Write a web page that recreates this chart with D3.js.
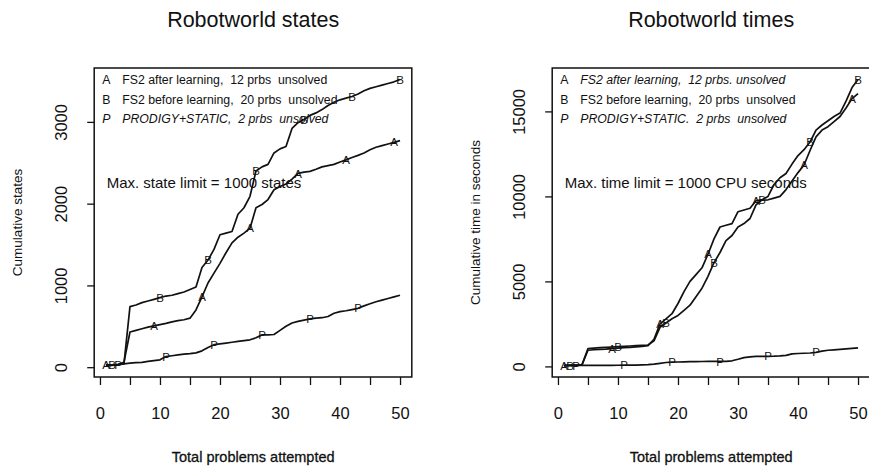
<!doctype html>
<html lang="en">
<head>
  <meta charset="utf-8">
  <title>Robotworld states and times</title>
  <script src="https://d3js.org/d3.v7.min.js"></script>
  <style>
    body { margin: 0; background: #fff; }
    text { font-family: "Liberation Sans", Arial, Helvetica, sans-serif; fill: #111; }
  </style>
</head>
<body>
<div id="chart"></div>
<script>
  // problem numbers 1..50
  var problems = d3.range(1, 51);

  // cumulative states explored (left panel)
  var statesA = [30, 30, 35, 60, 430, 450, 470, 490, 505, 520,
                 535, 555, 570, 580, 600, 700, 860, 1030, 1150, 1270,
                 1400, 1520, 1590, 1640, 1700, 1950, 1990, 2050, 2170, 2210,
                 2240, 2300, 2370, 2385, 2395, 2420, 2450, 2465, 2480, 2510,
                 2535, 2565, 2590, 2620, 2660, 2690, 2710, 2730, 2750, 2770];
  var statesB = [20, 25, 30, 40, 740, 760, 790, 810, 830, 850,
                 870, 880, 900, 920, 950, 980, 1220, 1310, 1440, 1620,
                 1640, 1660, 1870, 1950, 2090, 2400, 2450, 2480, 2620, 2670,
                 2700, 2920, 2990, 3030, 3080, 3110, 3150, 3200, 3240, 3270,
                 3290, 3310, 3340, 3380, 3410, 3430, 3450, 3470, 3490, 3519];
  var statesP = [20, 22, 30, 40, 50, 55, 60, 70, 80, 90,
                 130, 140, 150, 160, 165, 175, 200, 240, 275, 285,
                 295, 305, 315, 325, 335, 360, 395, 395, 400, 450,
                 500, 540, 560, 575, 590, 600, 605, 620, 660, 680,
                 690, 705, 720, 750, 775, 800, 820, 840, 860, 880];

  // cumulative CPU seconds (right panel)
  var timesA = [60, 70, 80, 90, 950, 980, 1000, 1020, 1050, 1080,
                1100, 1120, 1150, 1180, 1220, 1600, 2500, 2800, 3100, 3700,
                4400, 5000, 5400, 5800, 6600, 7500, 8200, 8300, 8400, 9100,
                9200, 9300, 9750, 9780, 9800, 9900, 10000, 10400, 10900, 11400,
                11850, 12700, 13500, 13900, 14100, 14400, 14700, 15200, 15750, 16050];
  var timesB = [50, 60, 70, 90, 1050, 1080, 1100, 1120, 1140, 1160,
                1180, 1200, 1220, 1240, 1260, 1500, 2300, 2550, 2800, 3000,
                3300, 3600, 4100, 4600, 5300, 6100, 6700, 7400, 7700, 8200,
                8400, 8700, 9500, 9800, 10000, 10700, 11100, 11350, 11900, 12400,
                12750, 13200, 13900, 14200, 14450, 14700, 14900, 15600, 16400, 16880];
  var timesP = [50, 50, 55, 55, 60, 60, 60, 62, 65, 68,
                70, 75, 80, 90, 100, 130, 180, 230, 250, 260,
                270, 280, 285, 290, 295, 295, 295, 300, 330, 420,
                520, 560, 585, 590, 595, 600, 620, 650, 740, 760,
                775, 790, 830, 900, 950, 975, 1000, 1030, 1060, 1090];

  var xTicks = d3.range(0, 51, 5);
  var xLabels = [0, 10, 20, 30, 40, 50];
  var statesTicks = [0, 1000, 2000, 3000];
  var timesTicks = [0, 5000, 10000, 15000];

  var seriesLetters = ['A', 'B', 'P'];
  var statesLegend = ['FS2 after learning,  12 prbs  unsolved',
                      'FS2 before learning,  20 prbs  unsolved',
                      'PRODIGY+STATIC,  2 prbs  unsolved'];
  var timesLegend = ['FS2 after learning,  12 prbs. unsolved',
                     'FS2 before learning,  20 prbs  unsolved',
                     'PRODIGY+STATIC.  2 prbs  unsolved'];

  var width = 869;
  var height = 466;
  var top_y = 68;
  var bottom_y = 377;

  var svg = d3.select('#chart').append('svg')
    .attr('width', width)
    .attr('height', height)
    .style('background', '#fff');

  // R style 4% padding on both ends
  function padded(lo, hi) {
    var p = (hi - lo) * 0.04;
    return [lo - p, hi + p];
  }

  function draw_panel(cfg) {
    var all = cfg.series.reduce((a, s) => a.concat(s), []);
    var x = d3.scaleLinear()
      .domain(padded(d3.min(problems), d3.max(problems)))
      .range([cfg.left, cfg.left + 317.6]);
    var y = d3.scaleLinear()
      .domain(padded(d3.min(all), d3.max(all)))
      .range([bottom_y, top_y]);

    var g = svg.append('g');

    // title
    g.append('text')
      .attr('x', cfg.left + 159)
      .attr('y', 27)
      .attr('text-anchor', 'middle')
      .style('font-size', '21.5px')
      .text(cfg.title);

    // box
    g.append('rect')
      .attr('x', x.range()[0])
      .attr('y', top_y)
      .attr('width', x.range()[1] - x.range()[0])
      .attr('height', bottom_y - top_y)
      .attr('fill', 'none')
      .attr('stroke', '#111')
      .attr('stroke-width', 1.5);

    // x axis
    var xa = g.append('g')
      .attr('transform', 'translate(0,' + bottom_y + ')')
      .call(d3.axisBottom(x).tickValues(xTicks).tickSize(8).tickPadding(22)
        .tickFormat(d => xLabels.indexOf(d) >= 0 ? d : ''));
    xa.select('.domain').remove();
    xa.selectAll('line').attr('stroke', '#111').attr('stroke-width', 1.3);
    xa.selectAll('text').style('font-size', '16.5px').attr('fill', '#111');

    // y axis
    var ya = g.append('g')
      .attr('transform', 'translate(' + x.range()[0] + ',0)')
      .call(d3.axisLeft(y).tickValues(cfg.ticks).tickSize(7).tickFormat(d3.format('d')));
    ya.select('.domain').remove();
    ya.selectAll('line').attr('stroke', '#111').attr('stroke-width', 1.3);
    ya.selectAll('text')
      .attr('x', 0)
      .attr('y', -33)
      .attr('dy', '0.35em')
      .attr('transform', 'rotate(-90)')
      .attr('text-anchor', 'middle')
      .attr('fill', '#111')
      .style('font-size', '16.5px');

    // axis titles
    g.append('text')
      .attr('transform', 'translate(' + (x.range()[0] - 77) + ',' + ((top_y + bottom_y) / 2) + ') rotate(-90)')
      .attr('text-anchor', 'middle')
      .attr('dy', '0.35em')
      .style('font-size', '13.5px')
      .text(cfg.ylabel);
    g.append('text')
      .attr('x', cfg.left + 159)
      .attr('y', 462)
      .attr('text-anchor', 'middle')
      .style('font-size', '14.5px')
      .style('stroke', '#111')
      .style('stroke-width', 0.3)
      .text('Total problems attempted');

    // curves
    var line = d3.line()
      .x((d, i) => x(problems[i]))
      .y(d => y(d));
    cfg.series.forEach(function(s, k) {
      g.append('path')
        .datum(s)
        .attr('fill', 'none')
        .attr('stroke', '#111')
        .attr('stroke-width', 1.7)
        .attr('stroke-linejoin', 'round')
        .attr('d', line);
      // letters every 8th problem, staggered per series
      g.selectAll(null)
        .data(s.map((v, i) => [problems[i], v]).filter(d => (d[0] - 1 - k) % 8 === 0))
        .enter().append('text')
        .attr('x', d => x(d[0]))
        .attr('y', d => y(d[1]))
        .attr('dy', '0.36em')
        .attr('text-anchor', 'middle')
        .style('font-size', '11.5px')
        .text(seriesLetters[k]);
    });

    // legend
    cfg.legend.forEach(function(t, k) {
      var yy = 84.3 + k * 19.5;
      var it = cfg.italic[k] ? 'italic' : 'normal';
      g.append('text')
        .attr('x', x.range()[0] + 8)
        .attr('y', yy)
        .style('font-size', '12.3px')
        .style('font-style', k === 2 ? 'italic' : 'normal')
        .text(seriesLetters[k]);
      g.append('text')
        .attr('x', x.range()[0] + 28)
        .attr('y', yy)
        .style('font-size', '12.3px')
        .style('font-style', it)
        .style('white-space', 'pre')
        .text(t);
    });

    g.append('text')
      .attr('x', x.range()[0] + 12.5)
      .attr('y', 188)
      .style('font-size', '15px')
      .text(cfg.note);
  }

  draw_panel({
    left: 94.2,
    title: 'Robotworld states',
    ylabel: 'Cumulative states',
    series: [statesA, statesB, statesP],
    ticks: statesTicks,
    legend: statesLegend,
    italic: [false, false, true],
    note: 'Max. state limit = 1000 states'
  });

  draw_panel({
    left: 552.2,
    title: 'Robotworld times',
    ylabel: 'Cumulative time in seconds',
    series: [timesA, timesB, timesP],
    ticks: timesTicks,
    legend: timesLegend,
    italic: [true, false, true],
    note: 'Max. time limit = 1000 CPU seconds'
  });
</script>
</body>
</html>
